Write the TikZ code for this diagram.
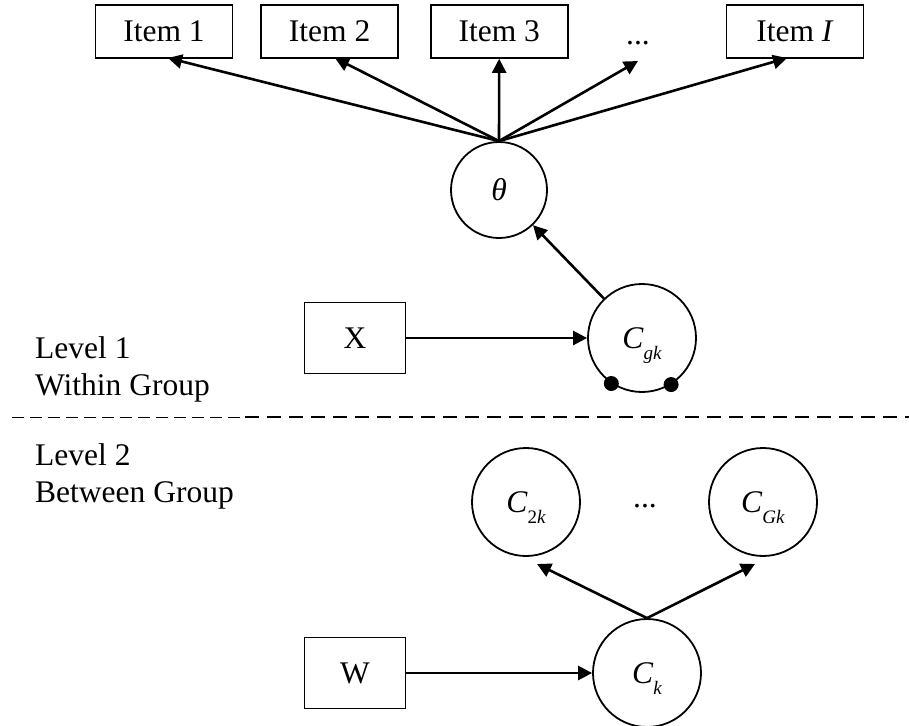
\documentclass[tikz,border=0pt]{standalone}
\usepackage{fontspec}
\setmainfont{Liberation Serif}
\usetikzlibrary{arrows.meta, positioning, calc}
\tikzset{
  font=\fontsize{31.5}{37}\selectfont,
  itembox/.style={rectangle, draw, line width=1.6pt, minimum width=137pt, minimum height=53pt, inner sep=0pt},
  covbox/.style={rectangle, draw, line width=1.6pt, minimum width=101pt, minimum height=71pt, inner sep=0pt},
  latent/.style={circle, draw, line width=1.8pt, minimum size=108pt, inner sep=0pt},
  pathline/.style={draw, -{Triangle[length=14pt, width=14pt]}, line width=2.6pt},
  levellabel/.style={anchor=base west, inner sep=0pt},
  corrdot/.style={circle, fill, inner sep=0pt, minimum size=15pt}
}
\newcommand{\lsub}[1]{\raisebox{-0.35em}[0pt][0pt]{\fontsize{19}{20}\selectfont #1}}

\begin{document}
\begin{tikzpicture}[x=1pt, y=-1pt]
  \useasboundingbox (0,0) rectangle (909,725);

  % Level 1: items, theta and the within-group class
  \node[itembox] (item1) at (164,31.5) {Item 1};
  \node[itembox, right=27pt of item1] (item2) {Item 2};
  \node[itembox, right=31pt of item2] (item3) {Item 3};
  \node[anchor=base, inner sep=0pt] (idots) at (638,45) {...};
  \node[itembox] (itemI) at (795,31.5) {Item \textit{I}};

  \node[latent, minimum size=96pt] (theta) at (499,190) {\textit{θ}};
  \node[latent] (cgk) at (642,338) {\textit{C}\lsub{\textit{gk}}};
  \node[covbox] (xcov) at (355,338) {X};

  \node[corrdot] (dotl) at (cgk.236) {};
  \node[corrdot] (dotr) at (cgk.302) {};

  \coordinate (tip1) at (168,58);
  \coordinate (tip2) at (335,58);
  \coordinate (tip3) at (item3.south);
  \coordinate (tipd) at (638,61);
  \coordinate (tipI) at (787,58);
  \foreach \t in {tip1,tip2,tip3,tipd,tipI}
    \draw[pathline] (theta.north) -- (\t);
  \draw[pathline] (cgk) -- (theta);
  \draw[pathline] (xcov.east) -- (cgk.west);

  \node[levellabel] (lev1) at (35,358) {Level 1};
  \node[levellabel] (grp1) at (35,395) {Within Group};

  % divider between the two levels
  \coordinate (divl) at (12,417);
  \coordinate (divm) at (245,417);
  \coordinate (divr) at (909,417);
  \draw[line width=0.8pt, dash pattern=on 12pt off 6pt] (divl) -- (divm);
  \draw[line width=2.2pt, dash pattern=on 14pt off 8pt] (divm) -- (divr);

  % Level 2: between-group classes
  \node[levellabel] (lev2) at (35,465) {Level 2};
  \node[levellabel] (grp2) at (35,502) {Between Group};

  \node[latent] (c2k) at (526,502) {\textit{C}\lsub{2\textit{k}}};
  \node[anchor=base, inner sep=0pt] (cdots) at (645,507) {...};
  \node[latent] (cGk) at (763,502) {\textit{C}\lsub{\textit{Gk}}};
  \node[latent] (ck) at (647,673) {\textit{C}\lsub{\textit{k}}};
  \node[covbox] (wcov) at (355,673) {W};

  \coordinate (tip2k) at (537,564);
  \coordinate (tipGk) at (755,564);
  \draw[pathline] (ck.north) -- (tip2k);
  \draw[pathline] (ck.north) -- (tipGk);
  \draw[pathline] (wcov.east) -- (ck.west);
\end{tikzpicture}
\end{document}
